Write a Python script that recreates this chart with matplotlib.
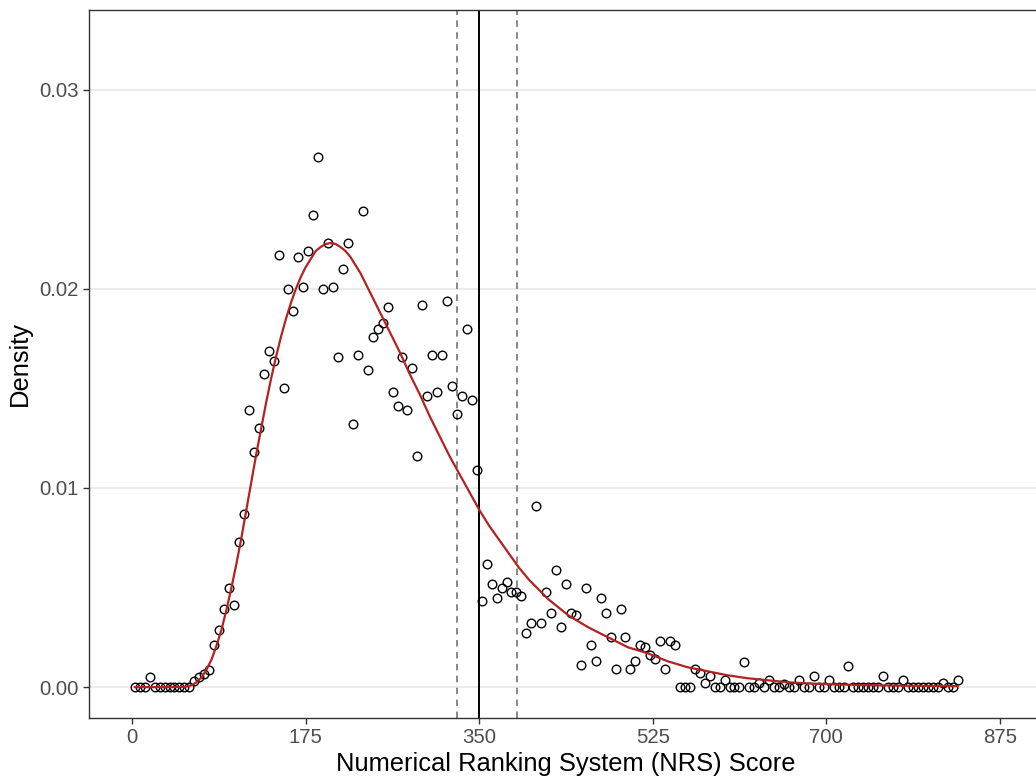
import numpy as np
import matplotlib
matplotlib.use("Agg")
import matplotlib.pyplot as plt
from matplotlib.ticker import FuncFormatter

# ---- data -------------------------------------------------------------
bin_width = 5
bin_centers = np.arange(2.5, 835, bin_width)  # 167 bins, 2.5 ... 832.5

density_points = [
    0, 0, 0, 0.0005, 0, 0, 0, 0, 0, 0, 0, 0,
    0.0003, 0.0005, 0.00065, 0.00085, 0.00214, 0.00285, 0.0039, 0.0050, 0.0041, 0.0073,
    0.0087, 0.0139, 0.0118, 0.0130, 0.0157, 0.0169, 0.0164, 0.0217, 0.0150, 0.0200,
    0.0189, 0.0216, 0.0201, 0.0219, 0.0237, 0.0266, 0.0200, 0.0223, 0.0201, 0.0166,
    0.0210, 0.0223, 0.0132, 0.0167, 0.0239, 0.0159, 0.0176, 0.0180, 0.0183, 0.0191,
    0.0148, 0.0141, 0.0166, 0.0139, 0.0160, 0.0116, 0.0192, 0.0146, 0.0167, 0.0148,
    0.0167, 0.0194, 0.0151, 0.0137, 0.0146, 0.0180, 0.0144, 0.0109, 0.0043, 0.0062,
    0.0052, 0.0045, 0.0050, 0.0053, 0.0048, 0.0048, 0.0046, 0.0027, 0.0032, 0.0091,
    0.0032, 0.0048, 0.0037, 0.0059, 0.0030, 0.0052, 0.0037, 0.0036, 0.0011, 0.0050,
    0.0021, 0.0013, 0.0045, 0.0037, 0.0025, 0.0009, 0.0039, 0.0025, 0.0009, 0.0013,
    0.0021, 0.0020, 0.0016, 0.0014, 0.0023, 0.0009, 0.0023, 0.0021, 0, 0,
    0, 0.0009, 0.0007, 0.0002, 0.00054, 0, 0, 0.00037, 0, 0,
    0, 0.00125, 0, 0, 0.0002, 0, 0.00037, 0, 0, 0.00018,
    0, 0, 0.00037, 0, 0, 0.00054, 0, 0, 0.00037, 0,
    0, 0, 0.00108, 0, 0, 0, 0, 0, 0, 0.00054,
    0, 0, 0, 0.00037, 0, 0, 0, 0, 0, 0,
    0, 0.0002, 0, 0, 0.00037,
]

# fitted density curve
curve_x = [2.5, 40, 50, 55, 60, 65, 70, 75, 80, 85, 90, 95, 100, 105, 110, 115, 120,
           125, 130, 135, 140, 145, 150, 155, 160, 165, 170, 175, 180, 185, 190, 195,
           200, 205, 210, 215, 220, 225, 230, 235, 240, 245, 250, 255, 260, 270, 280,
           290, 300, 310, 320, 330, 340, 350, 360, 370, 380, 390, 400, 410, 420, 430,
           440, 450, 460, 480, 500, 520, 540, 560, 580, 600, 620, 640, 660, 680, 700,
           740, 780, 832.5]
curve_y = [0, 0, 0.00001, 0.00003, 0.0001, 0.00025, 0.0005, 0.0009, 0.0014, 0.0021,
           0.0029, 0.0039, 0.0050, 0.0062, 0.0075, 0.0089, 0.0103, 0.0117, 0.0130,
           0.0143, 0.0155, 0.0166, 0.0176, 0.0185, 0.0193, 0.0200, 0.0206, 0.0211,
           0.0215, 0.0219, 0.0221, 0.02225, 0.0223, 0.02225, 0.0221, 0.0219, 0.0216,
           0.0212, 0.0208, 0.0203, 0.0198, 0.0193, 0.0188, 0.0183, 0.0178, 0.0168,
           0.0157, 0.0147, 0.0136, 0.0126, 0.0116, 0.0107, 0.0098, 0.0089, 0.0081,
           0.0074, 0.0067, 0.0060, 0.0054, 0.0049, 0.0044, 0.0040, 0.0036, 0.0033,
           0.0030, 0.0025, 0.0020, 0.0017, 0.0013, 0.0010, 0.0008, 0.0006, 0.00045,
           0.00035, 0.00025, 0.00019, 0.00015, 0.0001, 0.00007, 0.00005]

solid_line_x = 350
dashed_lines_x = [328, 388]

x_ticks = [0, 175, 350, 525, 700, 875]
y_ticks = [0.00, 0.01, 0.02, 0.03]
x_label = "Numerical Ranking System (NRS) Score"
y_label = "Density"

# ---- figure -----------------------------------------------------------
plt.rcParams['font.family'] = ['Liberation Sans', 'DejaVu Sans']
W, H = 1036, 780
fig = plt.figure(figsize=(W / 100, H / 100), dpi=100)
left_px, right_px, top_px, bottom_px = 89, 1043, 10, 718
ax = fig.add_axes([left_px / W, (H - bottom_px) / H,
                   (right_px - left_px) / W, (bottom_px - top_px) / H])

ax.set_xlim(-43.75, 918.75)
ax.set_ylim(-0.00155, 0.0340)

for yt in y_ticks:
    ax.axhline(yt, color='#EBEBEB', lw=1.4, zorder=0)

for xd in dashed_lines_x:
    ax.axvline(xd, color='#7F7F7F', lw=1.3, linestyle=(0, (3.6, 3.0)), zorder=1)
ax.axvline(solid_line_x, color='black', lw=1.4, zorder=1)

ax.plot(bin_centers, density_points, linestyle='none', marker='o', markersize=6.2,
        markerfacecolor='none', markeredgecolor='black', markeredgewidth=1.0, zorder=3)
ax.plot(curve_x, curve_y, color='#B22222', lw=1.6, zorder=4,
        solid_joinstyle='round')

ax.set_xticks(x_ticks)
ax.set_yticks(y_ticks)
ax.yaxis.set_major_formatter(FuncFormatter(lambda v, p: f"{v:.2f}"))
ax.tick_params(axis='both', colors='#333333', labelcolor='#4D4D4D', labelsize=14.7,
               length=4.5, width=1.0, pad=3)
for s in ax.spines.values():
    s.set_color('#333333')
    s.set_linewidth(1.0)

ax.set_xlabel(x_label, fontsize=18.4, color='black', labelpad=3)
ax.set_ylabel(y_label, fontsize=18.4, color='black', labelpad=5)

fig.savefig("out.png", dpi=100)
